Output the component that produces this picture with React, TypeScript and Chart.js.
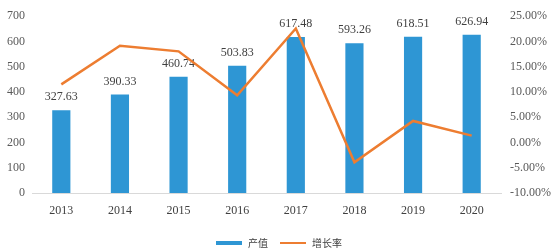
import React, { useEffect, useRef } from "react";
import { Chart, registerables } from "chart.js";

Chart.register(...registerables);

const years = ["2013", "2014", "2015", "2016", "2017", "2018", "2019", "2020"];
const outputValues = [327.63, 390.33, 460.74, 503.83, 617.48, 593.26, 618.51, 626.94];
const growthRates = [11.5, 19.14, 18.04, 9.35, 22.56, -3.92, 4.26, 1.36];
const seriesNames = ["产值", "增长率"];

const BLUE = "#2E96D4";
const ORANGE = "#ED7D31";
const FONT = "'Liberation Serif', 'Noto Sans CJK SC', serif";
const CJK = "'Noto Sans CJK SC', sans-serif";

const barLabelPlugin = {
  id: "barLabels",
  afterDatasetDraw(chart: any, args: any) {
    if (args.index !== 0) return;
    const ctx = chart.ctx;
    const meta = chart.getDatasetMeta(0);
    ctx.save();
    ctx.font = `12px ${FONT}`;
    ctx.textAlign = "center";
    ctx.textBaseline = "middle";
    meta.data.forEach((el: any, i: number) => {
      const txt = outputValues[i].toFixed(2);
      const w = ctx.measureText(txt).width;
      const cy = el.y - 13;
      ctx.fillStyle = "rgba(255,255,255,0.9)";
      ctx.fillRect(el.x - w / 2 - 2, cy - 7, w + 4, 14);
      ctx.fillStyle = "#404040";
      ctx.fillText(txt, el.x, cy);
    });
    ctx.restore();
  },
};

const legendPlugin = {
  id: "customLegend",
  afterDraw(chart: any) {
    const ctx = chart.ctx;
    ctx.save();
    ctx.font = `10px ${CJK}`;
    ctx.textBaseline = "middle";
    ctx.textAlign = "left";
    const boxW = 26;
    const gapText = 6;
    const gapItem = 12;
    const w1 = ctx.measureText(seriesNames[0]).width;
    const w2 = ctx.measureText(seriesNames[1]).width;
    const total = boxW + gapText + w1 + gapItem + boxW + gapText + w2;
    let x = chart.width / 2 + 2 - total / 2;
    const y = 243;
    ctx.fillStyle = BLUE;
    ctx.fillRect(x, y - 2, boxW, 4);
    x += boxW + gapText;
    ctx.fillStyle = "#404040";
    ctx.fillText(seriesNames[0], x, y);
    x += w1 + gapItem;
    ctx.fillStyle = ORANGE;
    ctx.fillRect(x, y - 1, boxW, 2);
    x += boxW + gapText;
    ctx.fillStyle = "#404040";
    ctx.fillText(seriesNames[1], x, y);
    ctx.restore();
  },
};

export default function App() {
  const ref = useRef<HTMLCanvasElement>(null);
  useEffect(() => {
    if (!ref.current) return;
    const chart = new Chart(ref.current, {
      type: "bar",
      data: {
        labels: years,
        datasets: [
          {
            type: "bar",
            label: seriesNames[0],
            data: outputValues,
            backgroundColor: BLUE,
            borderWidth: 0,
            yAxisID: "y",
            order: 1,
            barPercentage: 0.62,
            categoryPercentage: 0.5,
          },
          {
            type: "line",
            label: seriesNames[1],
            data: growthRates,
            borderColor: ORANGE,
            backgroundColor: ORANGE,
            borderWidth: 2.5,
            pointRadius: 0,
            tension: 0,
            yAxisID: "y1",
            order: 0,
          },
        ],
      },
      options: {
        animation: false,
        responsive: false,
        layout: { padding: { top: 12, left: 0, right: 0, bottom: 20 } },
        plugins: {
          tooltip: { enabled: false },
          legend: { display: false },
        },
        scales: {
          x: {
            grid: { display: false, drawTicks: false },
            border: { display: true, color: "#D9D9D9" },
            ticks: { color: "#404040", font: { family: FONT, size: 12 }, padding: 11 },
            afterFit: (s: any) => {
              s.height = 38;
            },
          },
          y: {
            position: "left",
            min: 0,
            max: 700,
            grid: { display: false, drawTicks: false },
            border: { display: false },
            ticks: { stepSize: 100, color: "#595959", font: { family: FONT, size: 12 }, padding: 7 },
            afterFit: (s: any) => {
              s.width = 32;
            },
          },
          y1: {
            position: "right",
            min: -10,
            max: 25,
            grid: { display: false, drawTicks: false },
            border: { display: false },
            ticks: {
              stepSize: 5,
              color: "#595959",
              font: { family: FONT, size: 12 },
              padding: 9,
              callback: (v: any) => Number(v).toFixed(2) + "%",
            },
            afterFit: (s: any) => {
              s.width = 53;
            },
          },
        },
      },
      plugins: [barLabelPlugin, legendPlugin],
    } as any);
    return () => chart.destroy();
  }, []);
  return (
    <div style={{ position: "fixed", left: 0, top: 0, width: 554, height: 251, background: "#fff" }}>
      <canvas ref={ref} width={554} height={251} />
    </div>
  );
}
